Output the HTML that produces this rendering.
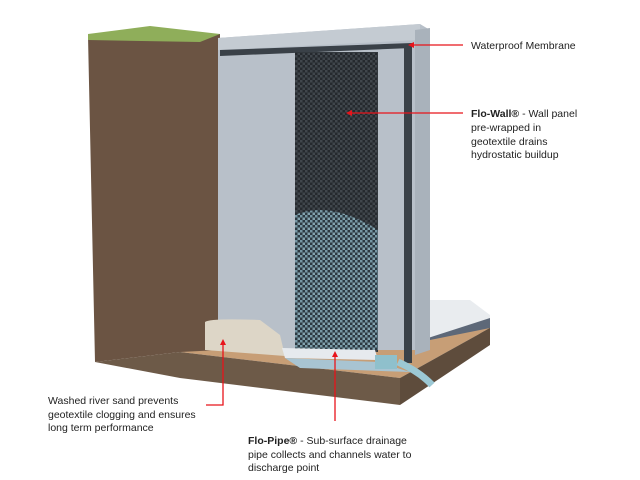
<!DOCTYPE html>
<html><head><meta charset="utf-8"><style>
body{margin:0;background:#fff;width:640px;height:480px;overflow:hidden}
svg{display:block}
text{font-family:"Liberation Sans",sans-serif;font-size:10.5px;fill:#222}
</style></head><body>
<svg width="640" height="480" viewBox="0 0 640 480">
<defs>
<pattern id="mesh" width="5" height="5" patternUnits="userSpaceOnUse">
<rect width="5" height="5" fill="#25292e"/><rect width="2.5" height="2.5" fill="#40464c"/><rect x="2.5" y="2.5" width="2.5" height="2.5" fill="#40464c"/>
</pattern>
<pattern id="mesh2" width="5" height="5" patternUnits="userSpaceOnUse">
<rect width="5" height="5" fill="#2d3c44"/><rect width="2.5" height="2.5" fill="#7fa5b3"/><rect x="2.5" y="2.5" width="2.5" height="2.5" fill="#8fb3c0"/>
</pattern>
</defs>
<!-- right floor slab -->
<polygon points="428,300 470,300 490,315 490,340 428,360" fill="#e9ecef"/>
<polygon points="428,338 490,318 490,330 428,352" fill="#5d6878"/>
<!-- base slab -->
<polygon points="180,352 200,340 430,340 490,328 400,378" fill="#c79e76"/>
<polygon points="95,362 180,352 400,378 400,405 180,378" fill="#6d5a48"/>
<polygon points="400,378 490,328 490,345 400,405" fill="#5e4c3c"/>
<!-- soil column -->
<polygon points="88,36 220,34 220,350 180,352 95,362" fill="#6b5443"/>
<polygon points="88,34 150,26 220,34 200,42 88,40" fill="#8fae5a"/>
<!-- concrete wall -->
<polygon points="218,38 420,24 430,30 430,350 218,350" fill="#b8c0c9"/>
<polygon points="218,38 420,24 420,40 218,50" fill="#c4cbd2"/>
<polygon points="415,30 430,28 430,350 415,355" fill="#a9b2bb"/>
<!-- membrane -->
<polygon points="220,50 412,43 412,48 220,56" fill="#3a4148"/>
<rect x="404" y="45" width="8" height="318" fill="#3a4148"/>
<!-- flo-wall panel -->
<rect x="295" y="52" width="83" height="300" fill="url(#mesh)"/>
<path d="M295,215 Q330,200 378,230 L378,350 L295,350 Z" fill="url(#mesh2)" opacity="0.85"/>
<!-- sand -->
<path d="M205,322 Q210,318 260,320 L280,335 L285,356 L205,350 Z" fill="#ddd6c7"/>
<!-- pipe -->
<polygon points="282,348 375,350 378,360 285,358" fill="#e6eaee"/>
<polygon points="285,358 378,362 410,372 300,368" fill="#a8c4d2"/>
<rect x="375" y="355" width="22" height="14" fill="#8fc0cc"/>
<path d="M398,362 Q420,372 432,385" stroke="#9cc8d4" stroke-width="7" fill="none"/>
<!-- callouts -->
<g stroke="#e8141b" stroke-width="1.3" fill="none">
<line x1="412" y1="45" x2="463" y2="45"/>
<line x1="350" y1="113" x2="463" y2="113"/>
<polyline points="223,343 223,405 206,405"/>
<line x1="335" y1="355" x2="335" y2="421"/>
</g>
<g fill="#e8141b">
<polygon points="408,45 414,42 414,48"/>
<polygon points="346,113 352,110 352,116"/>
<polygon points="223,339 220,345 226,345"/>
<polygon points="335,351 332,357 338,357"/>
</g>
<text x="471" y="49">Waterproof Membrane</text>
<text x="471" y="117"><tspan font-weight="bold">Flo-Wall®</tspan> -  Wall panel</text>
<text x="471" y="131">pre-wrapped in</text>
<text x="471" y="145">geotextile drains</text>
<text x="471" y="158">hydrostatic buildup</text>
<text x="48" y="404">Washed river sand prevents</text>
<text x="48" y="418">geotextile clogging and ensures</text>
<text x="48" y="431">long term performance</text>
<text x="248" y="444"><tspan font-weight="bold">Flo-Pipe®</tspan> -  Sub-surface drainage</text>
<text x="248" y="458">pipe collects and channels water to</text>
<text x="248" y="471">discharge point</text>
</svg>
</body></html>
